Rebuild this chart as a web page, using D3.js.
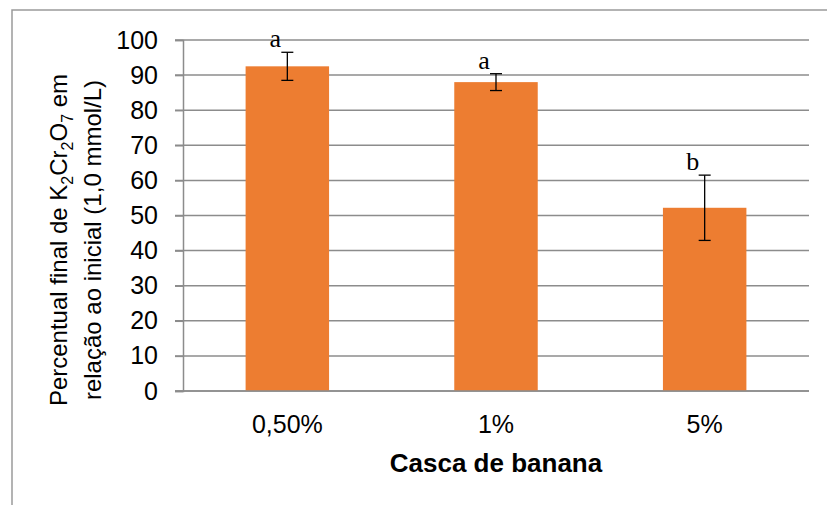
<!DOCTYPE html>
<html>
<head>
<meta charset="utf-8">
<script src="https://cdn.jsdelivr.net/npm/d3@7"></script>
<style>
  html, body { margin: 0; padding: 0; background: #fff; }
  svg { display: block; }
</style>
</head>
<body>
<svg id="chart" width="827" height="505"></svg>
<script>
// Treatments (banana peel concentration) and measured values
const categories = ["0,50%", "1%", "5%"];
const values = [92.5, 88.0, 52.2];
const errors = [4.0, 2.4, 9.3];
const letters = ["a", "a", "b"];
const yTicks = [0, 10, 20, 30, 40, 50, 60, 70, 80, 90, 100];

const svg = d3.select("#chart");
const W = 827, H = 505;
const plot = { left: 183, right: 809, top: 40, bottom: 391 };
const sans = "Arial, 'Liberation Sans', sans-serif";

// Outer frame (left and top edges visible)
svg.append("path")
  .attr("d", `M12,${H} L12,10 L${W},10`)
  .attr("fill", "none")
  .attr("stroke", "#9a9a9a")
  .attr("stroke-width", 1.5);

const x = d3.scaleBand()
  .domain(categories)
  .range([plot.left, plot.right])
  .paddingInner(0.6)
  .paddingOuter(0.3);

const y = d3.scaleLinear()
  .domain([0, 100])
  .range([plot.bottom, plot.top]);

// Horizontal gridlines
svg.append("g")
  .selectAll("line")
  .data(yTicks)
  .join("line")
  .attr("x1", plot.left - 8)
  .attr("x2", plot.right)
  .attr("y1", d => y(d))
  .attr("y2", d => y(d))
  .attr("stroke", "#8c8c8c")
  .attr("stroke-width", 1.5);

// Y axis
const yAxis = svg.append("g")
  .attr("transform", `translate(${plot.left},0)`)
  .call(d3.axisLeft(y).tickValues(yTicks).tickSize(8).tickPadding(17));
yAxis.select(".domain").attr("stroke", "#8c8c8c").attr("stroke-width", 1.5);
yAxis.selectAll(".tick line").attr("stroke", "#8c8c8c").attr("stroke-width", 1.5);
yAxis.selectAll(".tick text")
  .attr("font-family", sans)
  .attr("font-size", 25)
  .attr("fill", "#000");

// Bars
svg.append("g")
  .selectAll("rect")
  .data(values)
  .join("rect")
  .attr("x", (d, i) => x(categories[i]))
  .attr("width", x.bandwidth())
  .attr("y", d => y(d))
  .attr("height", d => y(0) - y(d))
  .attr("fill", "#ed7d31");

// Baseline over bars
svg.append("line")
  .attr("x1", plot.left - 8).attr("x2", plot.right)
  .attr("y1", y(0)).attr("y2", y(0))
  .attr("stroke", "#8c8c8c").attr("stroke-width", 1.5);

// Error bars
const eb = svg.append("g").attr("stroke", "#000").attr("stroke-width", 1.3);
values.forEach((v, i) => {
  const cx = x(categories[i]) + x.bandwidth() / 2;
  const top = y(v + errors[i]), bot = y(v - errors[i]);
  eb.append("line").attr("x1", cx).attr("x2", cx).attr("y1", top).attr("y2", bot);
  eb.append("line").attr("x1", cx - 6).attr("x2", cx + 6).attr("y1", top).attr("y2", top);
  eb.append("line").attr("x1", cx - 6).attr("x2", cx + 6).attr("y1", bot).attr("y2", bot);
});

// Significance letters
svg.append("g")
  .selectAll("text")
  .data(letters)
  .join("text")
  .attr("x", (d, i) => x(categories[i]) + x.bandwidth() / 2 - 12)
  .attr("y", (d, i) => y(values[i] + errors[i]) - 5)
  .attr("text-anchor", "middle")
  .attr("font-family", "'Times New Roman', 'Liberation Serif', serif")
  .attr("font-size", 26)
  .attr("fill", "#000")
  .text(d => d);

// Category labels
svg.append("g")
  .selectAll("text")
  .data(categories)
  .join("text")
  .attr("x", d => x(d) + x.bandwidth() / 2)
  .attr("y", 433)
  .attr("text-anchor", "middle")
  .attr("font-family", sans)
  .attr("font-size", 25)
  .attr("fill", "#000")
  .text(d => d);

// X axis title
svg.append("text")
  .attr("x", (plot.left + plot.right) / 2)
  .attr("y", 472)
  .attr("text-anchor", "middle")
  .attr("font-family", sans)
  .attr("font-size", 26)
  .attr("font-weight", "bold")
  .attr("fill", "#000")
  .text("Casca de banana");

// Y axis title (two lines, rotated) with chemical subscripts
const yt = svg.append("text")
  .attr("transform", `translate(0,240) rotate(-90)`)
  .attr("text-anchor", "middle")
  .attr("font-family", sans)
  .attr("font-size", 24)
  .attr("fill", "#000");
const l1 = yt.append("tspan").attr("x", 0).attr("y", 67);
l1.append("tspan").text("Percentual final de K");
l1.append("tspan").attr("font-size", 16).attr("dy", 6).text("2");
l1.append("tspan").attr("dy", -6).text("Cr");
l1.append("tspan").attr("font-size", 16).attr("dy", 6).text("2");
l1.append("tspan").attr("dy", -6).text("O");
l1.append("tspan").attr("font-size", 16).attr("dy", 6).text("7");
l1.append("tspan").attr("dy", -6).text(" em");
yt.append("tspan").attr("x", 0).attr("y", 101).text("relação ao inicial (1,0 mmol/L)");
</script>
</body>
</html>
